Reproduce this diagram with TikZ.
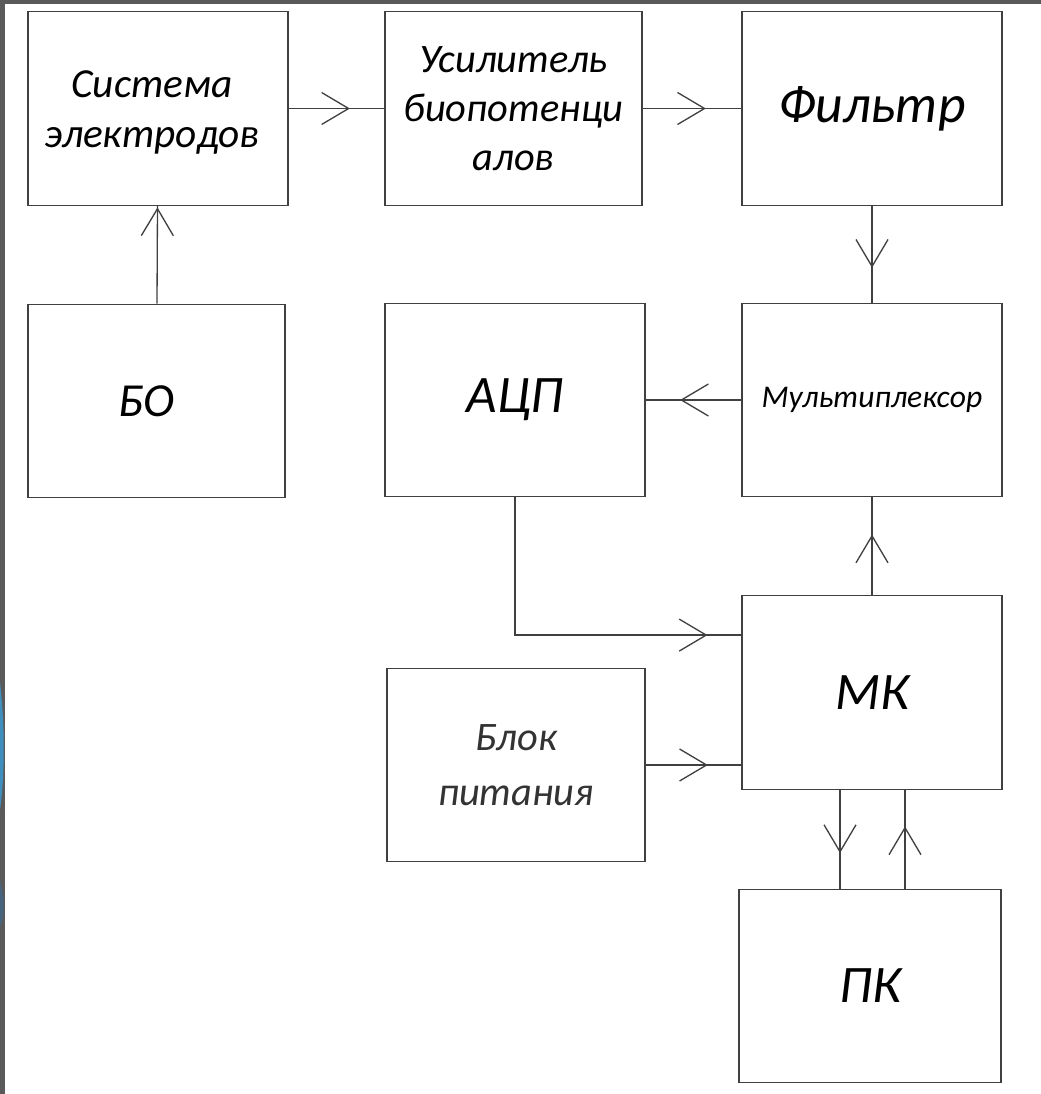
\documentclass[tikz,border=0pt]{standalone}
\usepackage{fontspec}
\setmainfont{Carlito}
\usetikzlibrary{
    arrows.meta,         % For the open barb arrow tips
    decorations.markings,% For arrow tips placed along a connector
    calc                 % For shifted anchor points
}
\definecolor{framegray}{RGB}{90,90,90}
\definecolor{slideblue}{RGB}{62,142,190}
\definecolor{slidedark}{RGB}{70,100,125}

\begin{document}
\begin{tikzpicture}[
    box/.style={rectangle, draw=black!75, line width=0.75pt, minimum width=5.2cm, minimum height=3.87cm, inner sep=0pt, align=center, font=\itshape\fontsize{23.5}{28.4}\selectfont},
    bigbox/.style={box, font=\itshape\fontsize{30}{36}\selectfont},
    flow/.style={draw=black!75, line width=0.75pt, decoration={markings, mark=at position #1 with {\arrow{Straight Barb[length=0.54cm, width=0.64cm, line width=0.75pt]}}}, postaction={decorate}},
    flow/.default=0.64
]
    % Page background and slide frame
    \fill[white] (0,0) rectangle (20.82,-21.88);
    \fill[framegray] (0,0) rectangle (20.82,-0.08);
    \fill[framegray] (0,0) rectangle (0.1,-21.88);
    \fill[slideblue] (0,-13.64) .. controls (0.1,-14.5) and (0.1,-15.5) .. (0,-16.2) -- cycle;
    \fill[slidedark] (0,-17.6) .. controls (0.1,-18.0) and (0.1,-18.3) .. (0,-18.54) -- cycle;

    % Top row
    \node[box] (sys) at (3.16,-2.17) {\rule{0pt}{20pt}Система\kern0.24cm\\электродов\kern0.24cm};
    \node[box, minimum width=5.14cm, font=\itshape\fontsize{23}{28}\selectfont] (amp) at (10.27,-2.17) {Усилитель\\биопотенци\\алов};
    \node[box, font=\itshape\fontsize{30.5}{36}\selectfont] (filt) at (17.44,-2.17) {Фильтр};

    % Middle row
    \node[bigbox, minimum width=5.14cm, font=\itshape\fontsize{27}{32}\selectfont] (bo) at (3.13,-8.02) {БО\kern0.4cm};
    \node[bigbox] (adc) at (10.3,-8.0) {АЦП};
    \node[box, font=\itshape\fontsize{18}{22}\selectfont] (mux) at (17.44,-8.0) {Мультиплексор};

    % Lower rows
    \node[bigbox] (mk) at (17.44,-13.85) {МК};
    \node[box, minimum width=5.16cm, text=black!80, font=\itshape\fontsize{23}{31}\selectfont] (psu) at (10.32,-15.3) {Блок\\питания};
    \node[bigbox, minimum width=5.24cm] (pc) at (17.4,-19.72) {ПК};

    % Signal path
    \draw[flow] (sys) -- (amp);
    \draw[flow] (amp) -- (filt);
    \draw[flow] (filt) -- (mux);
    \draw[flow] (mux) -- (adc);
    \draw[flow=0.985] (bo) -- (sys);
    \draw[flow=0.907] (adc.south) |- ([yshift=-0.8cm]mk.north west);
    \draw[flow=0.65] (psu) -- (psu -| mk.west);
    \draw[flow=0.62] (mk) -- (mux);

    % Link to the PC
    \draw[flow] ([xshift=-0.64cm]mk.south) -- ([xshift=-0.64cm]mk.south |- pc.north);
    \draw[flow=0.63] ([xshift=0.66cm]mk.south |- pc.north) -- ([xshift=0.66cm]mk.south);
\end{tikzpicture}
\end{document}
